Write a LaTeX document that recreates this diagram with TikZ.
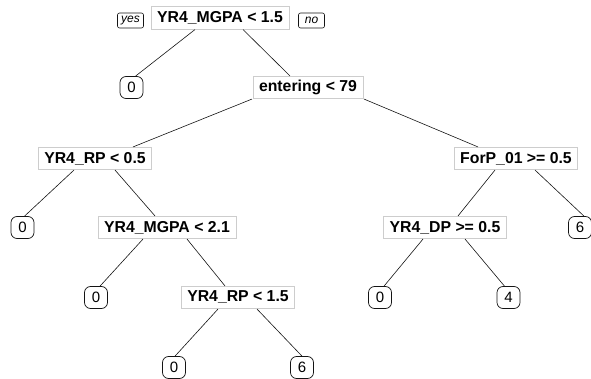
\documentclass[tikz,border=0pt]{standalone}
\usepackage{fontspec}
\setmainfont{Liberation Sans}
\usepackage{tikz}
\definecolor{mygray}{RGB}{205,205,205}
\definecolor{mydark}{RGB}{20,20,20}
\tikzset{
  split/.style={rectangle, draw=mygray, fill=white, line width=0.6pt,
    font=\fontsize{15.8}{18}\selectfont\bfseries, minimum height=22.5pt,
    inner xsep=6pt, inner ysep=2pt},
  leaf/.style={rectangle, draw=mydark, fill=white, rounded corners=6pt,
    font=\fontsize{15}{17}\selectfont, minimum width=23pt,
    minimum height=22pt, inner sep=1pt, line width=0.7pt},
  tag/.style={rectangle, draw=mydark, rounded corners=2pt,
    font=\fontsize{12}{14}\selectfont\itshape, minimum width=26pt,
    minimum height=15pt, inner sep=1pt, line width=0.6pt},
  branch/.style={line width=0.6pt, color=mydark}
}
\begin{document}
\begin{tikzpicture}[x=1pt, y=-1pt]
  \useasboundingbox (0,0) rectangle (591,379);

  % Split nodes
  \node[split] (root) at (220,18) {YR4\_MGPA < 1.5};
  \node[split] (ent) at (308,87.5) {entering < 79};
  \node[split] (rpa) at (95,158.5) {YR4\_RP < 0.5};
  \node[split] (forp) at (516,158.5) {ForP\_01 >= 0.5};
  \node[split] (mgb) at (167,227.5) {YR4\_MGPA < 2.1};
  \node[split] (dp) at (445,227.5) {YR4\_DP >= 0.5};
  \node[split] (rpb) at (238,297.5) {YR4\_RP < 1.5};

  % yes / no tags
  \node[tag] (yes) at (130.5,20.5) {yes};
  \node[tag] (no) at (311.5,20.5) {no};

  % Leaves
  \node[leaf] (lfa) at (131.5,87.5) {0};
  \node[leaf] (lfb) at (22.5,227.5) {0};
  \node[leaf] (lfc) at (580,227.5) {6};
  \node[leaf] (lfd) at (96,297.5) {0};
  \node[leaf] (lfe) at (380,297.5) {0};
  \node[leaf] (lff) at (508.5,297.5) {4};
  \node[leaf] (lfg) at (174,367.5) {0};
  \node[leaf] (lfh) at (302,367.5) {6};

  % Branches
  \draw[branch] ([xshift=-25pt]root.south) -- ([xshift=4pt]lfa.north);
  \draw[branch] ([xshift=23pt]root.south) -- ([xshift=-18pt]ent.north);
  \draw[branch] ([xshift=-56pt]ent.south) -- ([xshift=38pt]rpa.north);
  \draw[branch] ([xshift=56pt]ent.south) -- ([xshift=-38pt]forp.north);
  \draw[branch] ([xshift=-21pt]rpa.south) -- ([xshift=2pt]lfb.north);
  \draw[branch] ([xshift=20pt]rpa.south) -- ([xshift=-12pt]mgb.north);
  \draw[branch] ([xshift=-21pt]forp.south) -- ([xshift=13pt]dp.north);
  \draw[branch] ([xshift=19pt]forp.south) -- ([xshift=4pt]lfc.north);
  \draw[branch] ([xshift=-24pt]mgb.south) -- ([xshift=4pt]lfd.north);
  \draw[branch] ([xshift=20pt]mgb.south) -- ([xshift=-13pt]rpb.north);
  \draw[branch] ([xshift=-22pt]dp.south) -- ([xshift=4pt]lfe.north);
  \draw[branch] ([xshift=20pt]dp.south) -- ([xshift=-4pt]lff.north);
  \draw[branch] ([xshift=-20pt]rpb.south) -- ([xshift=1pt]lfg.north);
  \draw[branch] ([xshift=19pt]rpb.south) -- (lfh.north);
\end{tikzpicture}
\end{document}
